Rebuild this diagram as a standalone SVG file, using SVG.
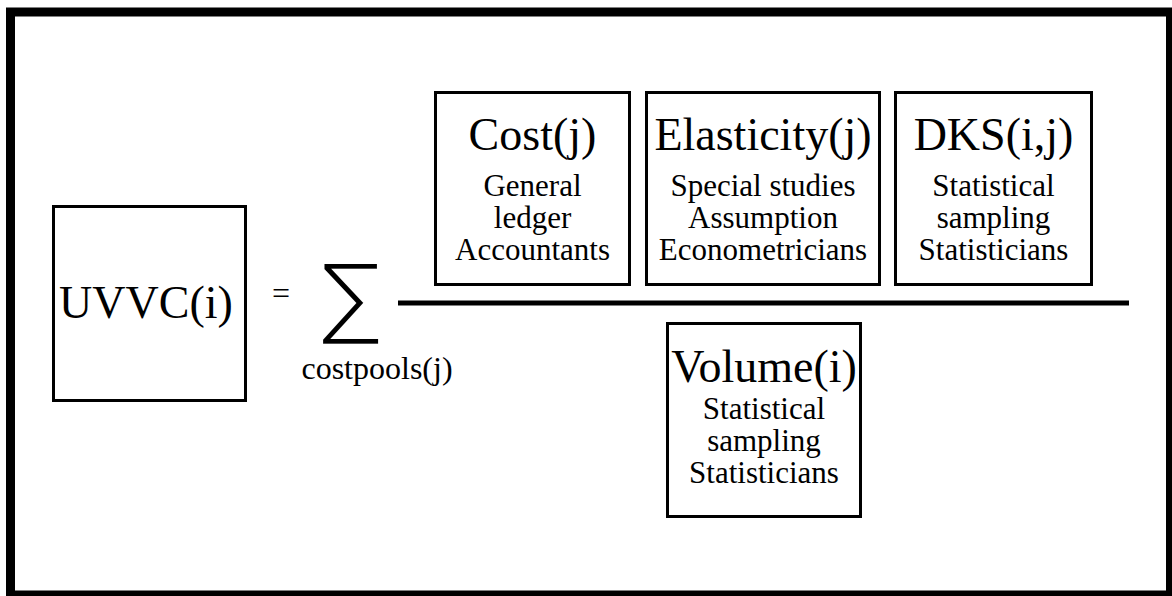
<svg xmlns="http://www.w3.org/2000/svg" width="1172" height="596" viewBox="0 0 1172 596">
  <style>
    .box { fill: #ffffff; stroke: #000000; stroke-width: 3; }
    .t { font-family: "Liberation Serif", "Times New Roman", serif; fill: #000000; text-anchor: middle; }
    .title { font-size: 46px; }
    .sub { font-size: 31px; }
  </style>
  <rect x="0" y="0" width="1172" height="596" fill="#ffffff"/>
  <rect id="frame" x="10.5" y="12" width="1160" height="583" fill="none" stroke="#000000" stroke-width="9"/>

  <g id="uvvc">
    <rect class="box" x="53.5" y="206.5" width="192" height="194"/>
    <text class="t title" x="146" y="318">UVVC(i)</text>
  </g>

  <g id="equals">
    <text class="t" font-size="32" x="281" y="304">=</text>
  </g>

  <g id="sum">
    <text x="351" y="328" font-size="92" text-anchor="middle" font-family="'DejaVu Sans', sans-serif" fill="#000000" stroke="#ffffff" stroke-width="4">∑</text>
    <text class="t" font-size="32" x="377" y="379">costpools(j)</text>
  </g>

  <g id="connectors">
    <line x1="398" y1="303" x2="1129" y2="303" stroke="#000000" stroke-width="5"/>
  </g>

  <g id="cost">
    <rect class="box" x="435.5" y="92.5" width="194" height="192"/>
    <text class="t title" x="532.5" y="150">Cost(j)</text>
    <text class="t sub" x="532.5" y="196">General</text>
    <text class="t sub" x="532.5" y="228">ledger</text>
    <text class="t sub" x="532.5" y="260">Accountants</text>
  </g>

  <g id="elasticity">
    <rect class="box" x="646.5" y="92.5" width="233" height="192"/>
    <text class="t title" x="763" y="150">Elasticity(j)</text>
    <text class="t sub" x="763" y="196">Special studies</text>
    <text class="t sub" x="763" y="228">Assumption</text>
    <text class="t sub" x="763" y="260">Econometricians</text>
  </g>

  <g id="dks">
    <rect class="box" x="895.5" y="92.5" width="196" height="192"/>
    <text class="t title" x="993.5" y="150">DKS(i,j)</text>
    <text class="t sub" x="993.5" y="196">Statistical</text>
    <text class="t sub" x="993.5" y="228">sampling</text>
    <text class="t sub" x="993.5" y="260">Statisticians</text>
  </g>

  <g id="volume">
    <rect class="box" x="667.5" y="323.5" width="193" height="193"/>
    <text class="t title" x="764" y="382">Volume(i)</text>
    <text class="t sub" x="764" y="419">Statistical</text>
    <text class="t sub" x="764" y="451">sampling</text>
    <text class="t sub" x="764" y="483">Statisticians</text>
  </g>
</svg>
